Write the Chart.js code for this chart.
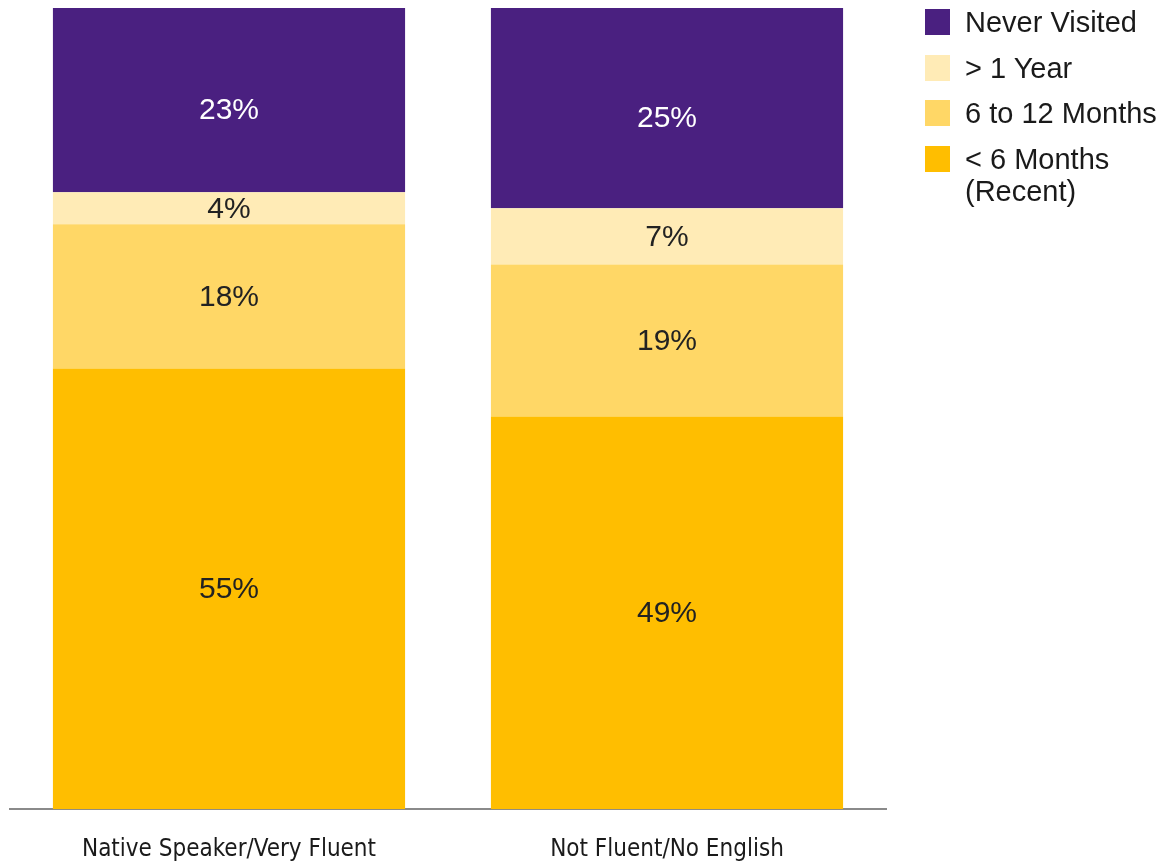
<!DOCTYPE html>
<html>
<head>
<meta charset="utf-8">
<script src="https://cdn.jsdelivr.net/npm/chart.js@4.4.0/dist/chart.umd.min.js"></script>
<style>
  html, body { margin: 0; padding: 0; background: #fff; }
  #wrap { position: relative; width: 1168px; height: 863px; }
  #legend { position: absolute; left: 925px; top: 6px; font-family: "Liberation Sans", Arial, sans-serif; font-size: 29px; color: #1a1a1a; }
  .item { display: flex; align-items: flex-start; margin-bottom: 13.5px; }
  .sw { width: 25px; height: 26px; margin-right: 15px; flex: none; margin-top: 3px; }
  .lbl { line-height: 32px; white-space: nowrap; }
</style>
</head>
<body>
<div id="wrap">
  <canvas id="c" width="1168" height="863"></canvas>
  <div id="legend"></div>
</div>
<script>
const categories = ["Native Speaker/Very Fluent", "Not Fluent/No English"];
const seriesNames = ["< 6 Months (Recent)", "6 to 12 Months", "> 1 Year", "Never Visited"];
const lessThan6Months = [55, 49];
const sixTo12Months = [18, 19];
const moreThan1Year = [4, 7];
const neverVisited = [23, 25];
const colors = ["#FFBE00", "#FFD766", "#FFEBB6", "#4A2080"];
const labelColors = ["#222222", "#222222", "#222222", "#ffffff"];

const seriesValues = [lessThan6Months, sixTo12Months, moreThan1Year, neverVisited];

const labelPlugin = {
  id: 'segLabels',
  afterDatasetsDraw(chart) {
    const ctx = chart.ctx;
    ctx.save();
    ctx.font = '30px "Liberation Sans", Arial, sans-serif';
    ctx.textAlign = 'center';
    ctx.textBaseline = 'middle';
    chart.data.datasets.forEach((ds, di) => {
      const meta = chart.getDatasetMeta(di);
      meta.data.forEach((bar, i) => {
        const top = Math.min(bar.y, bar.base);
        const bot = Math.max(bar.y, bar.base);
        let y = (top + bot) / 2;
        if (di === 3) y += 10;
        ctx.fillStyle = labelColors[di];
        ctx.fillText(ds.data[i] + '%', bar.x, y + 1);
      });
    });
    ctx.restore();
  }
};

new Chart(document.getElementById('c'), {
  type: 'bar',
  data: {
    labels: categories,
    datasets: seriesNames.map((n, i) => ({
      label: n,
      data: seriesValues[i],
      backgroundColor: colors[i],
      borderWidth: 0,
      barPercentage: 1,
      categoryPercentage: 0.804
    }))
  },
  options: {
    responsive: false,
    animation: false,
    layout: { padding: { left: 10, right: 282, top: 8, bottom: -27 } },
    plugins: { legend: { display: false }, tooltip: { enabled: false } },
    scales: {
      x: {
        stacked: true,
        grid: { display: false, drawTicks: false },
        border: { display: true, color: '#8a8a8a', width: 2 },
        ticks: {
          color: '#1a1a1a',
          padding: 26,
          font: { family: '"Liberation Sans Narrow", "DejaVu Sans Condensed", sans-serif', size: 24 }
        }
      },
      y: {
        stacked: true,
        display: false,
        min: 0,
        max: 100
      }
    }
  },
  plugins: [labelPlugin]
});

const legendOrder = [3, 2, 1, 0];
const legendText = ["&lt; 6 Months<br>(Recent)", "6 to 12 Months", "&gt; 1 Year", "Never Visited"];
const lg = document.getElementById('legend');
legendOrder.forEach(i => {
  const d = document.createElement('div');
  d.className = 'item';
  d.innerHTML = '<div class="sw" style="background:' + colors[i] + '"></div><div class="lbl">' + legendText[i] + '</div>';
  lg.appendChild(d);
});
</script>
</body>
</html>
